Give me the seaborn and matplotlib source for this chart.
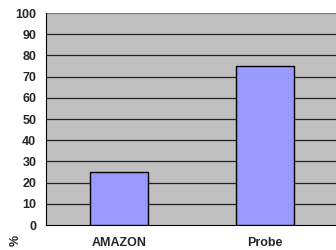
import pandas as pd
import seaborn as sns
import matplotlib.pyplot as plt

categories = ["AMAZON", "Probe"]
values = [25, 75]
yticks = list(range(0, 101, 10))

df = pd.DataFrame({"cat": categories, "val": values})

sns.set_style("white")
plt.rcParams['font.family'] = ['Liberation Sans', 'DejaVu Sans']
plt.rcParams['font.size'] = 9
plt.rcParams['font.weight'] = 'bold'

fig = plt.figure(figsize=(3.36, 2.5), dpi=100)
ax = fig.add_axes([0.137, 0.1, 0.869, 0.848])
ax.set_facecolor('#C0C0C0')

sns.barplot(x="cat", y="val", data=df, color='#9999FF', width=0.4,
            edgecolor='black', linewidth=1, saturation=1, ax=ax, zorder=3)

ax.set_ylim(0, 100)
ax.set_xlim(-0.5, 1.5)
ax.set_yticks(yticks)
ax.set_yticklabels([str(t) for t in yticks], fontweight='bold')
for t in yticks[1:-1]:
    ax.axhline(t, color='#202020', linewidth=0.9, zorder=1)
ax.axhline(100, color='#808080', linewidth=1, zorder=1)

ax.set_xticks([0.5])
ax.set_xticklabels([''])
ax.tick_params(axis='x', length=4, width=0.8, color='#808080')
ax.tick_params(axis='y', length=5, width=0.8, color='black', pad=2, direction='out')
ax.text(0, -0.085, "AMAZON", transform=ax.get_xaxis_transform(), ha='center',
        va='center', fontweight='bold')
ax.text(1, -0.085, "Probe", transform=ax.get_xaxis_transform(), ha='center',
        va='center', fontweight='bold')

ax.set_xlabel('')
ax.set_ylabel('')
for s in ['top', 'right']:
    ax.spines[s].set_visible(False)
ax.spines['left'].set_color('black')
ax.spines['bottom'].set_color('black')

fig.text(0.048, 0.04, "%", rotation=90, ha='center', va='center', fontweight='bold')

fig.savefig('out.png', dpi=100)
